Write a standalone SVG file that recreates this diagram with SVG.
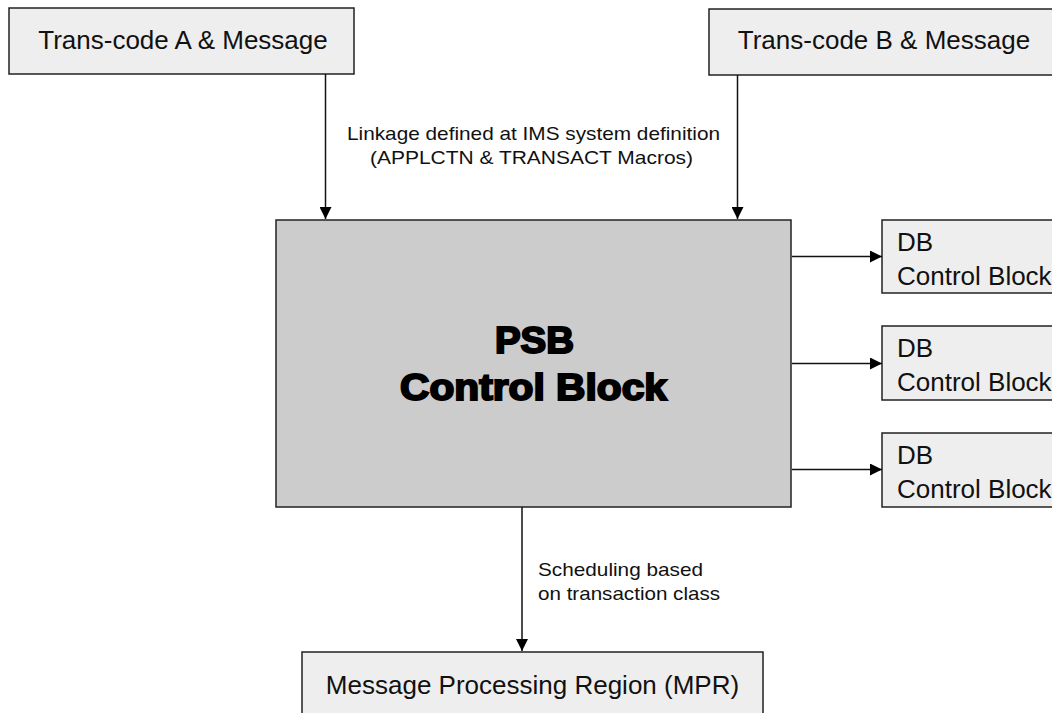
<svg xmlns="http://www.w3.org/2000/svg" width="1052" height="713" viewBox="0 0 1052 713">
<defs>
<marker id="ah" viewBox="0 0 12 12" refX="12" refY="6" markerWidth="12" markerHeight="12" markerUnits="userSpaceOnUse" orient="auto">
<path d="M0,0 L12,6 L0,12 z" fill="#000"/>
</marker>
<style>
.box{fill:#eeeeee;stroke:#222;stroke-width:1.5}
.psb{fill:#cccccc;stroke:#222;stroke-width:1.5}
.t{font-family:"Liberation Sans",Arial,sans-serif;font-size:26px;fill:#111}
.s{font-family:"Liberation Sans",Arial,sans-serif;font-size:19px;fill:#111}
.b{font-family:"Liberation Sans",Arial,sans-serif;font-size:36px;font-weight:bold;fill:#000;stroke:#000;stroke-width:2}
.c{stroke:#111;stroke-width:1.5;fill:none;marker-end:url(#ah)}
</style>
</defs>
<rect width="1052" height="713" fill="#fff"/>
<g id="transA"><rect class="box" x="9" y="8" width="345" height="66"/><text class="t" x="183" y="49" text-anchor="middle">Trans-code A &amp; Message</text></g>
<g id="transB"><rect class="box" x="709" y="9" width="360" height="66"/><text class="t" x="884" y="49" text-anchor="middle">Trans-code B &amp; Message</text></g>
<g id="psb"><rect class="psb" x="276" y="220" width="515" height="287"/><text class="b" x="534.5" y="353" text-anchor="middle" textLength="79" lengthAdjust="spacingAndGlyphs">PSB</text><text class="b" x="533.5" y="400" text-anchor="middle" textLength="267" lengthAdjust="spacingAndGlyphs">Control Block</text></g>
<g id="db1"><rect class="box" x="882" y="220" width="190" height="73"/><text class="t" x="897" y="251">DB</text><text class="t" x="897" y="285">Control Block</text></g>
<g id="db2"><rect class="box" x="882" y="326" width="190" height="74"/><text class="t" x="897" y="357">DB</text><text class="t" x="897" y="391">Control Block</text></g>
<g id="db3"><rect class="box" x="882" y="433" width="190" height="74"/><text class="t" x="897" y="464">DB</text><text class="t" x="897" y="498">Control Block</text></g>
<g id="mpr"><rect class="box" x="302" y="652" width="461" height="80"/><text class="t" x="532.5" y="694" text-anchor="middle">Message Processing Region (MPR)</text></g>
<g id="connectors">
<line class="c" x1="325.5" y1="74" x2="325.5" y2="219"/>
<line class="c" x1="737.5" y1="75" x2="737.5" y2="219"/>
<line class="c" x1="792" y1="256.5" x2="882" y2="256.5"/>
<line class="c" x1="792" y1="363.5" x2="882" y2="363.5"/>
<line class="c" x1="792" y1="469.5" x2="882" y2="469.5"/>
<line class="c" x1="522" y1="507" x2="522" y2="651"/>
</g>
<g id="labels">
<text class="s" x="533.5" y="140" text-anchor="middle" textLength="373" lengthAdjust="spacingAndGlyphs">Linkage defined at IMS system definition</text>
<text class="s" x="531.5" y="164" text-anchor="middle" textLength="323" lengthAdjust="spacingAndGlyphs">(APPLCTN &amp; TRANSACT Macros)</text>
<text class="s" x="538" y="576" textLength="165" lengthAdjust="spacingAndGlyphs">Scheduling based</text>
<text class="s" x="538" y="600" textLength="182" lengthAdjust="spacingAndGlyphs">on transaction class</text>
</g>
</svg>
